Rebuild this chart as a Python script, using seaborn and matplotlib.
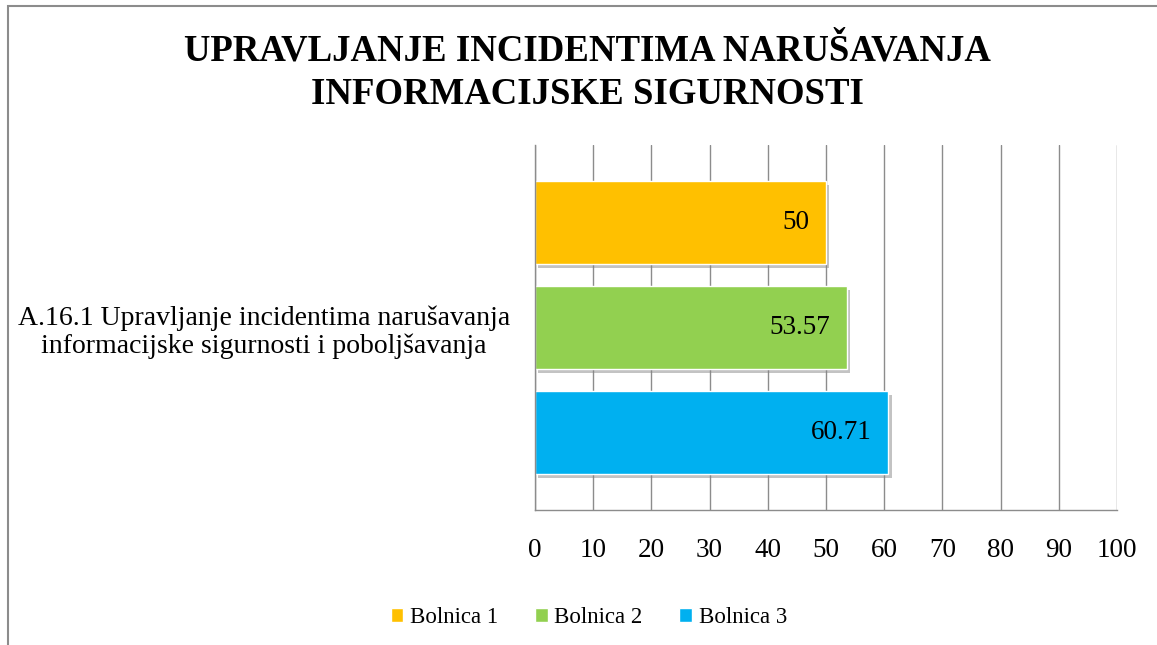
import seaborn as sns
import matplotlib.pyplot as plt
import matplotlib.patheffects as pe
from matplotlib.patches import Rectangle
import pandas as pd

# data
category = ["A.16.1 Upravljanje incidentima narušavanja\ninformacijske sigurnosti i poboljšavanja"]
hospitals = ["Bolnica 1", "Bolnica 2", "Bolnica 3"]
scores = [50, 53.57, 60.71]
colors = ["#FFC000", "#92D050", "#00B0F0"]
x_ticks = [0, 10, 20, 30, 40, 50, 60, 70, 80, 90, 100]

df = pd.DataFrame({
    "kategorija": category * len(hospitals),
    "bolnica": hospitals,
    "vrijednost": scores,
})

sns.set_style("white")
plt.rcParams["font.family"] = ["Liberation Serif", "DejaVu Serif"]
plt.rcParams["text.color"] = "black"
plt.rcParams["xtick.color"] = "black"
plt.rcParams["ytick.color"] = "black"

fig = plt.figure(figsize=(11.57, 6.45), dpi=100)
ax = fig.add_axes([0.4624, 0.209, 0.503, 0.566])

sns.barplot(data=df, x="vrijednost", y="kategorija", hue="bolnica",
            palette=colors, saturation=1, orient="h", width=0.863, gap=0.21,
            edgecolor="white", linewidth=1, ax=ax)

shadow = [pe.SimplePatchShadow(offset=(2.5, -2.5), shadow_rgbFace="#888888", alpha=0.5), pe.Normal()]
for c in ax.containers:
    for bar in c:
        bar.set_path_effects(shadow)
    texts = ax.bar_label(c, fmt="%g", padding=-12, fontsize=19.5)
    for t in texts:
        t.set_ha("right")

ax.set_xlim(0, 100)
ax.set_xticks(x_ticks)
ax.xaxis.grid(True, color="#8c8c8c", linewidth=1)
ax.set_axisbelow(True)
ax.set_xlabel("")
ax.set_ylabel("")
ax.tick_params(axis="x", length=0, pad=20, labelsize=19.5)
ax.tick_params(axis="y", length=0, pad=18, labelsize=20)
for lbl in ax.get_yticklabels():
    lbl.set_multialignment("center")
    lbl.set_linespacing(1.17)

for side in ["top", "right"]:
    ax.spines[side].set_visible(False)
for side in ["left", "bottom"]:
    ax.spines[side].set_color("#8c8c8c")
    ax.spines[side].set_linewidth(1)

handles, labels = ax.get_legend_handles_labels()
ax.get_legend().remove()
fig.legend(handles, labels, loc="center", bbox_to_anchor=(0.509, 0.043), ncol=3,
           frameon=False, fontsize=16.5, handlelength=0.55, handleheight=0.55,
           handletextpad=0.3, columnspacing=1.6)

fig.text(0.508, 0.887, "UPRAVLJANJE INCIDENTIMA NARUŠAVANJA\nINFORMACIJSKE SIGURNOSTI",
         ha="center", va="center", fontsize=26.5, fontweight="bold", linespacing=1.3)

# outer chart frame (only left and top edges visible)
fig.patches.append(Rectangle((8 / 1157, -0.1), 1.2, 0.1 + 1 - 6 / 645,
                             transform=fig.transFigure, fill=False,
                             edgecolor="#8c8c8c", linewidth=1.5))

fig.savefig("out.png", dpi=100)
